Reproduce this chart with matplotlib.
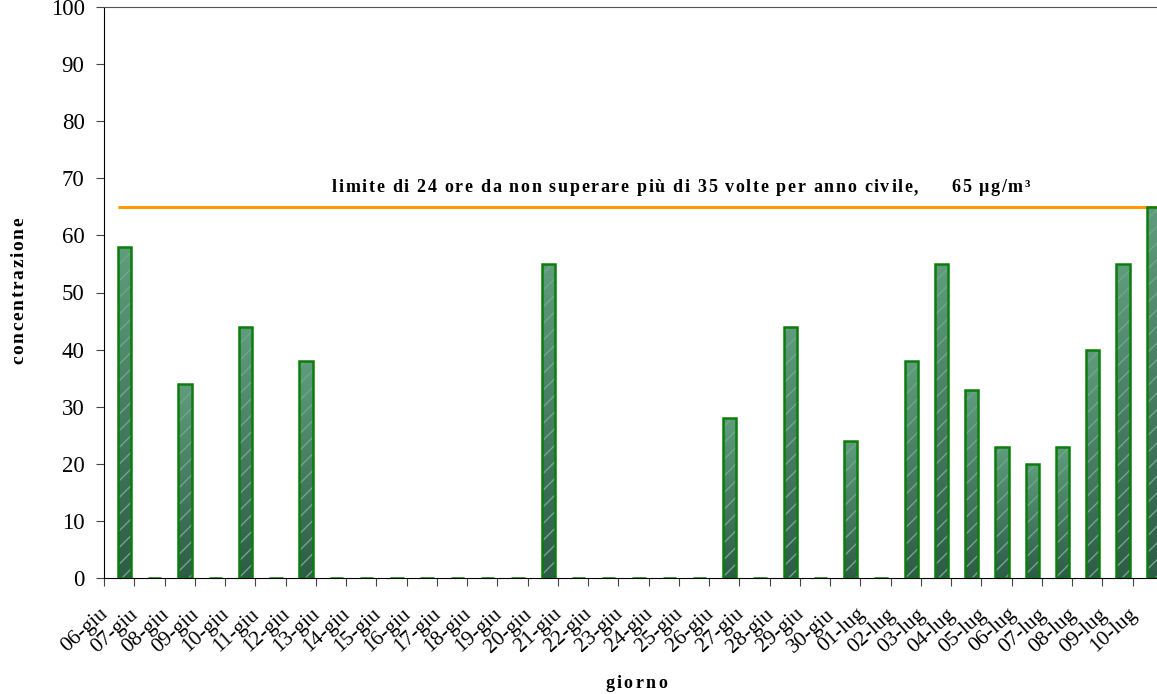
import numpy as np
import matplotlib
matplotlib.use("Agg")
import matplotlib.pyplot as plt
from matplotlib.font_manager import FontProperties, findfont, get_font
from matplotlib.transforms import ScaledTranslation

# Giorni (etichette asse x)
giorni = ['06-giu', '07-giu', '08-giu', '09-giu', '10-giu', '11-giu', '12-giu', '13-giu',
          '14-giu', '15-giu', '16-giu', '17-giu', '18-giu', '19-giu', '20-giu', '21-giu',
          '22-giu', '23-giu', '24-giu', '25-giu', '26-giu', '27-giu', '28-giu', '29-giu',
          '30-giu', '01-lug', '02-lug', '03-lug', '04-lug', '05-lug', '06-lug', '07-lug',
          '08-lug', '09-lug', '10-lug']

# Concentrazione giornaliera (0 = nessun dato)
concentrazione = [58, 0, 34, 0, 44, 0, 38, 0,
                  0, 0, 0, 0, 0, 0, 55, 0,
                  0, 0, 0, 0, 28, 0, 44, 0,
                  24, 0, 38, 55, 33, 23, 20, 23,
                  40, 55, 65]

limite = 65
testo_limite = "limite di 24 ore da non superare più di 35 volte per anno civile,     65 µg/m³"

plt.rcParams['font.family'] = ['Liberation Serif', 'DejaVu Serif']
DPI = 100


# Testo con spaziatura tra le lettere (larghezza totale in pixel)
def testo_spaziato(fig, x, y, s, transform, size, larghezza_px, verticale=False):
    prop = FontProperties(family='Liberation Serif', weight='bold', size=size)
    font = get_font(findfont(prop))
    font.set_size(size, DPI)
    avanz = []
    for c in s:
        g = font.load_char(ord(c))
        avanz.append(g.linearHoriAdvance / 65536)
    naturale = sum(avanz)
    spazio = (larghezza_px - naturale) / (len(s) - 1)
    pos = -larghezza_px / 2
    for c, a in zip(s, avanz):
        if verticale:
            off = ScaledTranslation(0, pos / DPI, fig.dpi_scale_trans)
            fig.text(x, y, c, transform=transform + off, rotation=90, ha='center',
                     va='bottom', fontproperties=prop)
        else:
            off = ScaledTranslation(pos / DPI, 0, fig.dpi_scale_trans)
            fig.text(x, y, c, transform=transform + off, ha='left',
                     va='baseline', fontproperties=prop)
        pos += a + spazio


fig = plt.figure(figsize=(11.57, 6.94), dpi=DPI)
ax = fig.add_axes([104 / 1157, 116 / 694, 1059 / 1157, 571 / 694])

n = len(giorni)
x = np.arange(n) + 0.68
largh = 0.44

# Linea limite, sotto le barre
ax.plot([x[0] - largh / 2, n], [limite, limite], color='#ff9900', lw=2.2, zorder=1,
        solid_capstyle='butt')

# Barre con sfumatura verde
bars = ax.bar(x, concentrazione, width=largh, color='#3f7d5e', edgecolor='none', zorder=2)
grad = np.linspace(0, 1, 100).reshape(-1, 1)
cmap = matplotlib.colors.LinearSegmentedColormap.from_list('verde', ['#2e5c47', '#5f9c7d'])
for b, v in zip(bars, concentrazione):
    if v <= 0:
        continue
    x0 = b.get_x()
    im = ax.imshow(grad, cmap=cmap, origin='lower', aspect='auto',
                   extent=[x0, x0 + largh, 0, v], zorder=2.1)
    im.set_clip_path(b)
# tratteggio chiaro (discreto) e bordo verde
ax.bar(x, concentrazione, width=largh, color='none', edgecolor='#6fa688', hatch='//',
       linewidth=0, zorder=2.2)
ax.bar(x, concentrazione, width=largh, color='none', edgecolor='#0a7d0a', linewidth=1.8,
       zorder=2.3)

ax.set_xlim(0, n)
ax.set_ylim(0, 100)
ax.set_yticks(np.arange(0, 101, 10))
ax.set_xticks(np.arange(n + 1))
ax.set_xticklabels(giorni + [''], rotation=42, ha='right', va='top', fontsize=15.5)
ax.tick_params(axis='y', labelsize=16.5, length=6, direction='out', color='#444444', pad=8)
ax.tick_params(axis='x', length=6, direction='out', color='#444444', pad=4)
sposta = ScaledTranslation(8 / DPI, -13 / DPI, fig.dpi_scale_trans)
for lab in ax.get_xticklabels():
    lab.set_transform(lab.get_transform() + sposta)

ax.spines['right'].set_visible(False)
ax.spines['top'].set_color('#555555')
ax.spines['left'].set_color('black')
ax.spines['bottom'].set_color('black')

# Testo del limite sopra la linea
testo_spaziato(fig, 19.07, 67.6, testo_limite, ax.transData, 13, 698)

# Titoli degli assi
testo_spaziato(fig, 19 / 1157, 1 - 291 / 694, 'concentrazione', fig.transFigure, 14, 147,
               verticale=True)
testo_spaziato(fig, 636 / 1157, 1 - 688 / 694, 'giorno', fig.transFigure, 13, 62)

fig.savefig('out.png', dpi=DPI)
